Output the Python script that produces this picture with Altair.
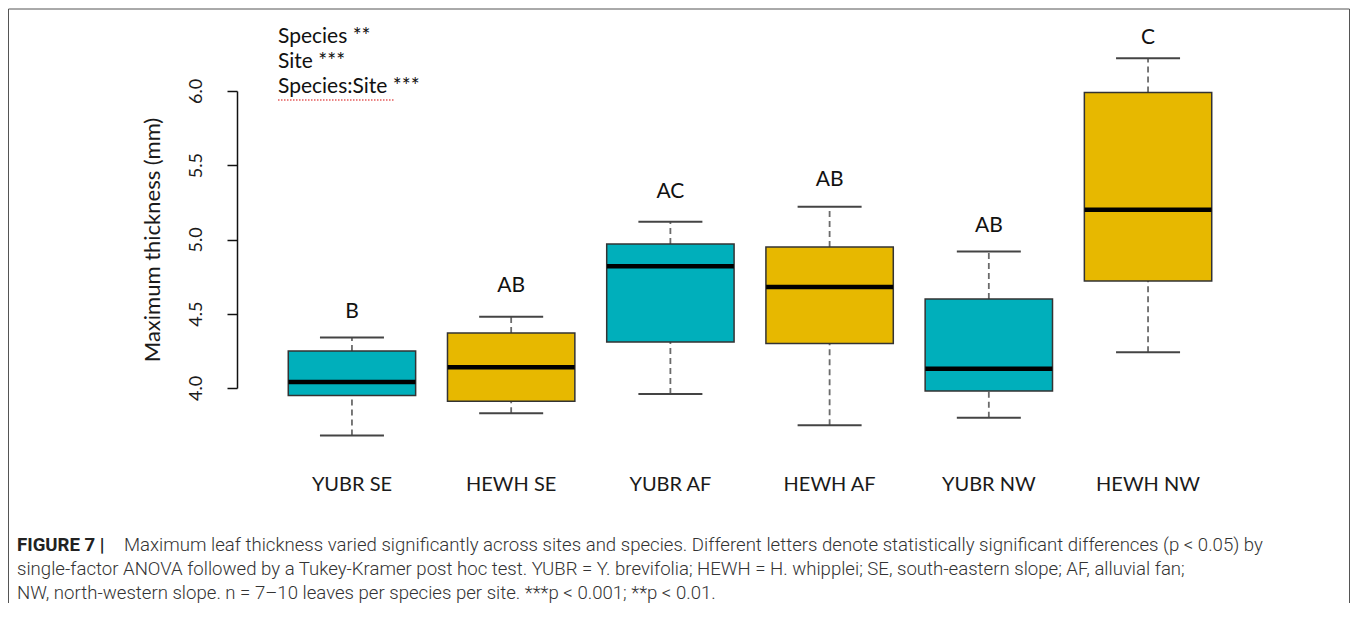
import altair as alt
import pandas as pd

# ---- data ----
categories = ["YUBR SE", "HEWH SE", "YUBR AF", "HEWH AF", "YUBR NW", "HEWH NW"]
species = ["YUBR", "HEWH", "YUBR", "HEWH", "YUBR", "HEWH"]
lower_whisker = [3.68, 3.83, 3.96, 3.75, 3.80, 4.24]
q1 = [3.95, 3.91, 4.31, 4.30, 3.98, 4.72]
median = [4.04, 4.14, 4.82, 4.68, 4.13, 5.20]
q3 = [4.25, 4.37, 4.97, 4.95, 4.60, 5.99]
upper_whisker = [4.34, 4.48, 5.12, 5.22, 4.92, 6.22]
letters = ["B", "AB", "AC", "AB", "AB", "C"]
letter_y = [4.51, 4.69, 5.32, 5.40, 5.09, 6.36]
y_ticks = [4.0, 4.5, 5.0, 5.5, 6.0]

anova_lines = ["Species **", "Site ***", "Species:Site ***"]
caption_bold = "FIGURE 7 |"
caption_lines = [
    "Maximum leaf thickness varied significantly across sites and species. Different letters denote statistically significant differences (p < 0.05) by",
    "single-factor ANOVA followed by a Tukey-Kramer post hoc test. YUBR = Y. brevifolia; HEWH = H. whipplei; SE, south-eastern slope; AF, alluvial fan;",
    "NW, north-western slope. n = 7–10 leaves per species per site. ***p < 0.001; **p < 0.01.",
]

TEAL = "#00AFBB"
GOLD = "#E7B800"
FONT = "Lato"
CAP_FONT = "Roboto"
CAP_SIZE = 18.6

df = pd.DataFrame({
    "category": categories, "species": species, "lower": lower_whisker,
    "q1": q1, "median": median, "q3": q3, "upper": upper_whisker,
    "letter": letters, "letter_y": letter_y,
})
one = pd.DataFrame({"k": [0]})

xenc = alt.X("category:N", sort=categories,
             scale=alt.Scale(paddingInner=0.2, paddingOuter=0.322),
             axis=alt.Axis(title=None, domain=False, ticks=False, labelAngle=0,
                           labelPadding=86, labelFont=FONT, labelFontSize=20,
                           labelColor="#1a1a1a"))
yscale = alt.Scale(domain=[4.0, 6.0], zero=False, nice=False)
yaxis = alt.Axis(title="Maximum thickness (mm)", values=y_ticks, format=".1f",
                 labelAngle=270, labelAlign="center", labelBaseline="bottom",
                 labelPadding=22, labelFont=FONT, labelFontSize=18, labelColor="#1a1a1a",
                 tickSize=10, tickColor="#111", tickWidth=1.5,
                 domainColor="#111", domainWidth=1.5, grid=False,
                 titleFont=FONT, titleFontSize=22, titleFontWeight="normal",
                 titleColor="#1a1a1a", titlePadding=23)

base = alt.Chart(df).encode(x=xenc)

whisk_hi = base.mark_rule(color="#6b6b6b", strokeWidth=1.8, strokeDash=[6, 4]).encode(
    y=alt.Y("q3:Q", scale=yscale, axis=yaxis), y2="upper:Q")
whisk_lo = base.mark_rule(color="#6b6b6b", strokeWidth=1.8, strokeDash=[6, 4]).encode(
    y=alt.Y("lower:Q"), y2="q1:Q")
cap_hi = base.mark_tick(size=64, thickness=2, color="#444", opacity=1).encode(y="upper:Q")
cap_lo = base.mark_tick(size=64, thickness=2, color="#444", opacity=1).encode(y="lower:Q")
box = base.mark_bar(stroke="#333", strokeWidth=1.5, opacity=1).encode(
    y="q1:Q", y2="q3:Q",
    color=alt.Color("species:N", scale=alt.Scale(domain=["YUBR", "HEWH"], range=[TEAL, GOLD]),
                    legend=None))
med = base.mark_tick(size=127, thickness=4.5, color="#000", opacity=1).encode(y="median:Q")
lett = base.mark_text(font=FONT, fontSize=21, baseline="middle", color="#111").encode(
    y="letter_y:Q", text="letter:N")

# ---- decorations: figure frame, ANOVA note, caption ----
frame_col = "#555"
frame_left = alt.Chart(one).mark_rule(color=frame_col, strokeWidth=1).encode(
    x=alt.value(-228.5), y=alt.value(-82), y2=alt.value(515))
frame_right = alt.Chart(one).mark_rule(color=frame_col, strokeWidth=1).encode(
    x=alt.value(1112.5), y=alt.value(-82), y2=alt.value(515))
frame_top = alt.Chart(one).mark_rule(color=frame_col, strokeWidth=1).encode(
    x=alt.value(-228.5), x2=alt.value(1112.5), y=alt.value(-82))

notes = []
for i, t in enumerate(anova_lines):
    notes.append(alt.Chart(one).mark_text(text=t, font=FONT, fontSize=21, align="left",
                                          baseline="alphabetic", color="#111").encode(
        x=alt.value(41), y=alt.value(-48 + 25 * i)))
squiggle = alt.Chart(one).mark_rule(color="#d33", strokeWidth=1.3, strokeDash=[1.5, 1.5],
                                    opacity=0.8).encode(
    x=alt.value(41), x2=alt.value(158), y=alt.value(9))

cap = [alt.Chart(one).mark_text(text=caption_bold, font=CAP_FONT, fontSize=CAP_SIZE, fontWeight="bold",
                                align="left", baseline="alphabetic", color="#222").encode(
    x=alt.value(-220), y=alt.value(460))]
cap_x = [-113, -220, -220]
cap_y = [460, 484, 508]
for t, cx, cy in zip(caption_lines, cap_x, cap_y):
    cap.append(alt.Chart(one).mark_text(text=t, font=CAP_FONT, fontSize=CAP_SIZE, fontWeight=300,
                                        align="left", baseline="alphabetic", color="#333").encode(
        x=alt.value(cx), y=alt.value(cy)))

chart = alt.layer(
    whisk_hi, whisk_lo, cap_hi, cap_lo, box, med, lett,
    frame_left, frame_right, frame_top, squiggle, *notes, *cap
).properties(
    width=1026, height=297,
    autosize=alt.AutoSizeParams(type="none"),
    padding={"left": 229, "top": 83, "right": 87, "bottom": 215},
).configure_view(strokeWidth=0)

chart.save("out.html", embed_options={"renderer": "svg", "actions": False})
